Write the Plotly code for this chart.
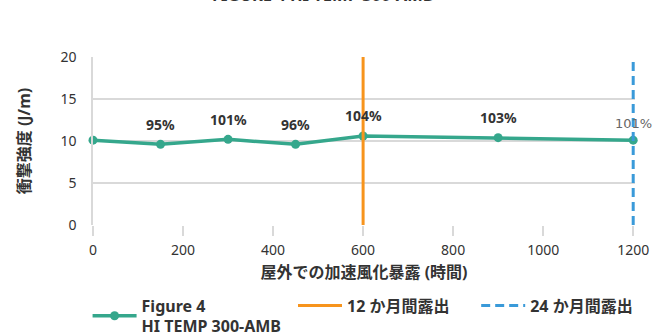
import plotly.graph_objects as go

# Impact strength vs. accelerated outdoor weathering exposure
hours = [0, 150, 300, 450, 600, 900, 1200]
strength = [10.1, 9.6, 10.2, 9.6, 10.6, 10.4, 10.1]
retention = ["", "95%", "101%", "96%", "104%", "103%", "101%"]

month12_x = [600, 600]
month24_x = [1200, 1200]
marker_span = [0, 20]

x_ticks = [0, 200, 400, 600, 800, 1000, 1200]
y_ticks = [0, 5, 10, 15, 20]

FONT = "Noto Sans, Noto Sans CJK JP, sans-serif"
GREEN = "#35a78c"
ORANGE = "#f7941d"
BLUE = "#3a9ad9"
GRID = "#d9d9d9"
TEXT = "#333333"

fig = go.Figure()

fig.add_trace(go.Scatter(
    x=hours, y=strength, mode="lines+markers",
    name="Figure 4<br>HI TEMP 300-AMB",
    line=dict(color=GREEN, width=3.5),
    marker=dict(color=GREEN, size=9),
    cliponaxis=False, legend="legend",
))

fig.add_trace(go.Scatter(
    x=month12_x, y=marker_span, mode="lines",
    name="12 か月間露出",
    line=dict(color=ORANGE, width=3),
    legend="legend2",
))

fig.add_trace(go.Scatter(
    x=month24_x, y=marker_span, mode="lines",
    name="24 か月間露出",
    line=dict(color=BLUE, width=3, dash="9px,5px"),
    cliponaxis=False, legend="legend3",
))

# Retention labels above each measured point
for i, (h, v, t) in enumerate(zip(hours, strength, retention)):
    if not t:
        continue
    last = i == len(hours) - 1
    fig.add_annotation(
        x=h, y=v, text=t if last else f"<b>{t}</b>",
        showarrow=False, yshift=17 if last else 20,
        font=dict(family="DejaVu Sans, sans-serif" if last else FONT,
                  size=13 if last else 14,
                  color="#666666" if last else TEXT),
    )

# Figure title, mostly above the visible page
fig.add_annotation(
    xref="paper", yref="paper", x=0.425, y=1.293, yanchor="bottom",
    text="<b>FIGURE 4 HI TEMP 300-AMB</b>", showarrow=False,
    font=dict(family=FONT, size=16.5, color=TEXT),
)

legend_common = dict(
    orientation="h", yanchor="top", y=-0.378,
    font=dict(family=FONT, size=16, color=TEXT, weight="bold"),
    itemwidth=44, bgcolor="rgba(0,0,0,0)",
)

fig.update_layout(
    width=672, height=333,
    margin=dict(l=93, r=37, t=57, b=108, autoexpand=False),
    paper_bgcolor="white", plot_bgcolor="white",
    font=dict(family=FONT, size=14, color=TEXT),
    showlegend=True,
    legend=dict(x=-0.01, xanchor="left", **legend_common),
    legend2=dict(x=0.369, xanchor="left", **legend_common),
    legend3=dict(x=0.707, xanchor="left", **legend_common),
)

fig.update_xaxes(
    range=[0, 1204], tickvals=x_ticks,
    showgrid=False, zeroline=False, showline=False,
    ticks="outside", ticklen=10, tickcolor=GRID, tickwidth=1.5,
    ticklabelstandoff=2,
    tickfont=dict(family=FONT, size=14, color=TEXT),
    title=dict(text="<b>屋外での加速風化暴露 (時間)</b>",
               font=dict(family=FONT, size=16, color=TEXT), standoff=9),
)

fig.update_yaxes(
    range=[0, 20], tickvals=y_ticks,
    showgrid=True, gridcolor=GRID, gridwidth=1.5,
    zeroline=False, showline=True, linecolor=GRID, linewidth=1.5,
    ticks="", ticklabelstandoff=12,
    tickfont=dict(family=FONT, size=14, color=TEXT),
    title=dict(text="<b>衝撃強度 (J/m)</b>",
               font=dict(family=FONT, size=16, color=TEXT), standoff=26),
)

fig.write_html("out.html")
